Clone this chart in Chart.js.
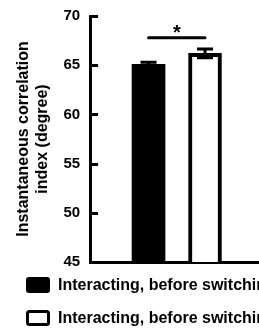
<!DOCTYPE html>
<html>
<head>
<meta charset="utf-8">
<script src="https://cdn.jsdelivr.net/npm/chart.js@4.4.1/dist/chart.umd.min.js"></script>
<style>
html, body { margin: 0; padding: 0; background: #fff; }
#wrap { width: 259px; height: 330px; }
</style>
</head>
<body>
<div id="wrap"><canvas id="chart"></canvas></div>
<script>
var seriesNames = ['Interacting, before switching (leader)', 'Interacting, before switching (follower)'];
var seriesValues = [65.1, 66.2];
var seriesErrors = [0.2, 0.45];
var yTicks = [45, 50, 55, 60, 65, 70];
var sigLevel = 67.8;
var sigLabel = '*';

var FONT = 'Liberation Sans, Arial, sans-serif';

// inward tick marks, error bars, significance bracket and the legend
var extras = {
    id: 'extras',
    afterDatasetsDraw: function(chart) {
        var ctx = chart.ctx;
        var y = chart.scales.y;
        var x0 = y.right;
        ctx.save();
        ctx.strokeStyle = '#000';
        ctx.fillStyle = '#000';
        ctx.lineWidth = 3;
        yTicks.forEach(function(v) {
            var py = Math.round(y.getPixelForValue(v)) + 0.5;
            ctx.beginPath();
            ctx.moveTo(x0, py);
            ctx.lineTo(x0 + 8, py);
            ctx.stroke();
        });
        var centers = [];
        chart.data.datasets.forEach(function(ds, i) {
            var bar = chart.getDatasetMeta(i).data[0];
            centers.push(bar.x);
            var top = y.getPixelForValue(seriesValues[i] + seriesErrors[i]);
            var bot = y.getPixelForValue(seriesValues[i] - seriesErrors[i]);
            ctx.beginPath();
            ctx.moveTo(bar.x, top);
            ctx.lineTo(bar.x, bot);
            ctx.moveTo(bar.x - 8, top);
            ctx.lineTo(bar.x + 8, top);
            ctx.moveTo(bar.x - 8, bot);
            ctx.lineTo(bar.x + 8, bot);
            ctx.stroke();
        });
        var sy = y.getPixelForValue(sigLevel);
        ctx.lineCap = 'round';
        ctx.beginPath();
        ctx.moveTo(centers[0], sy);
        ctx.lineTo(centers[1], sy);
        ctx.stroke();
        ctx.font = 'bold 20px ' + FONT;
        ctx.textAlign = 'center';
        ctx.textBaseline = 'alphabetic';
        ctx.fillText(sigLabel, (centers[0] + centers[1]) / 2, sy + 1);

        // legend
        ctx.lineCap = 'butt';
        ctx.textAlign = 'left';
        ctx.textBaseline = 'middle';
        ctx.font = 'bold 16px ' + FONT;
        chart.data.datasets.forEach(function(ds, i) {
            var bx = 26, by = 277 + i * 33;
            ctx.beginPath();
            ctx.roundRect(bx, by, 24, 16, 3);
            ctx.fillStyle = ds.backgroundColor;
            ctx.fill();
            if (ds.borderWidth) {
                ctx.beginPath();
                ctx.roundRect(bx + 1.5, by + 1.5, 21, 13, 2);
                ctx.lineWidth = 3;
                ctx.strokeStyle = ds.borderColor;
                ctx.stroke();
            }
            ctx.fillStyle = '#000';
            ctx.fillText(ds.label, 58, by + 8.5);
        });
        ctx.restore();
    }
};

new Chart(document.getElementById('chart'), {
    type: 'bar',
    data: {
        datasets: [{
            label: seriesNames[0],
            data: [{ x: 1, y: seriesValues[0] }],
            backgroundColor: '#000',
            borderColor: '#000',
            borderWidth: 0
        }, {
            label: seriesNames[1],
            data: [{ x: 2, y: seriesValues[1] }],
            backgroundColor: '#fff',
            borderColor: '#000',
            borderWidth: 4
        }]
    },
    options: {
        responsive: true,
        maintainAspectRatio: false,
        animation: false,
        grouped: false,
        barThickness: 33,
        layout: { padding: { top: 16, left: 14, right: 0, bottom: 68 } },
        plugins: {
            tooltip: { enabled: false },
            legend: { display: false }
        },
        scales: {
            x: {
                type: 'linear',
                offset: false,
                min: -0.035,
                max: 2.956,
                grid: { display: false, drawTicks: false },
                ticks: { display: false },
                border: { display: true, color: '#000', width: 3 },
                afterFit: function(axis) { axis.height = 0; }
            },
            y: {
                min: 45,
                max: 70,
                afterBuildTicks: function(axis) {
                    axis.ticks = yTicks.map(function(v) { return { value: v }; });
                },
                afterFit: function(axis) { axis.paddingTop = 0; axis.paddingBottom = 0; },
                grid: { display: false, drawTicks: false },
                border: { display: true, color: '#000', width: 3 },
                ticks: {
                    color: '#000',
                    padding: 10,
                    font: { family: FONT, size: 15, weight: 'bold' }
                },
                title: {
                    display: true,
                    text: ['Instantaneous correlation', 'index (degree)'],
                    color: '#000',
                    padding: { top: 0, bottom: 1 },
                    font: { family: FONT, size: 16, weight: 'bold', lineHeight: 1.2 }
                }
            }
        }
    },
    plugins: [extras]
});
</script>
</body>
</html>
